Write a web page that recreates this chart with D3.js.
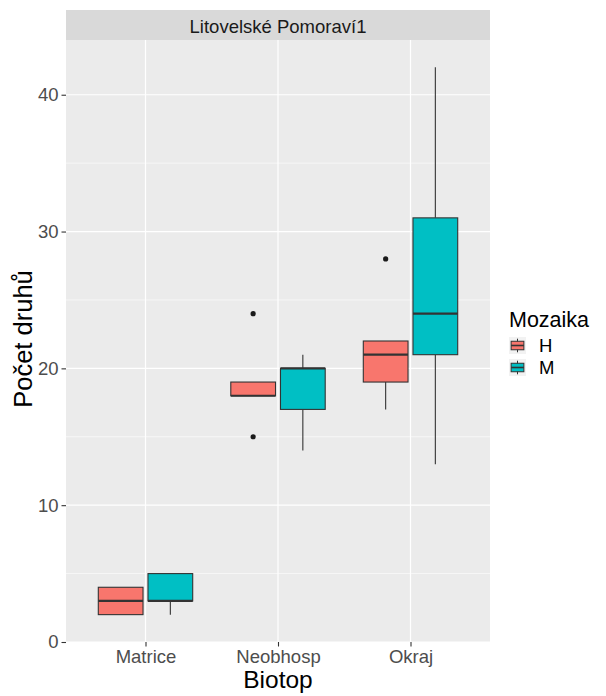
<!DOCTYPE html>
<html>
<head>
<meta charset="utf-8">
<script src="https://cdn.jsdelivr.net/npm/d3@7"></script>
<style>
  html, body { margin: 0; padding: 0; background: #ffffff; }
  svg { display: block; font-family: "Liberation Sans", Arial, sans-serif; }
</style>
</head>
<body>
<svg id="chart" width="606" height="696"></svg>
<script>
// Box plot summaries per habitat (Biotop) and mosaic type (Mozaika)
const categories = ["Matrice", "Neobhosp", "Okraj"];
const groups = ["H", "M"];
const groupColors = ["#F8766D", "#00BFC4"];

// H series
const hYmin   = [2, 18, 17];
const hLower  = [2, 18, 19];
const hMiddle = [3, 18, 21];
const hUpper  = [4, 19, 22];
const hYmax   = [4, 19, 22];
const hOutliers = [[], [24, 15], [28]];

// M series
const mYmin   = [2, 14, 13];
const mLower  = [3, 17, 21];
const mMiddle = [3, 20, 24];
const mUpper  = [5, 20, 31];
const mYmax   = [5, 21, 42];
const mOutliers = [[], [], []];

const yMajorTicks = [0, 10, 20, 30, 40];
const yMinorTicks = [5, 15, 25, 35];

const panelTitle = "Litovelské Pomoraví1";
const xTitle = "Biotop";
const yTitle = "Počet druhů";
const legendTitle = "Mozaika";

// Build rows for drawing
const series = [
  { key: "H", ymin: hYmin, lower: hLower, middle: hMiddle, upper: hUpper, ymax: hYmax, out: hOutliers },
  { key: "M", ymin: mYmin, lower: mLower, middle: mMiddle, upper: mUpper, ymax: mYmax, out: mOutliers }
];
const rows = [];
series.forEach(s => {
  categories.forEach((c, i) => {
    rows.push({
      cat: c, group: s.key,
      ymin: s.ymin[i], lower: s.lower[i], middle: s.middle[i],
      upper: s.upper[i], ymax: s.ymax[i], out: s.out[i]
    });
  });
});

// Layout
const panel = { left: 66, right: 490, top: 40, bottom: 642 };
const strip = { top: 10, bottom: 40 };

const svg = d3.select("#chart");

const x = d3.scalePoint()
  .domain(categories)
  .range([panel.left, panel.right])
  .padding(0.6);

const dodgeWidth = 0.75 * x.step();
const xg = d3.scaleBand()
  .domain(groups)
  .range([-dodgeWidth / 2, dodgeWidth / 2])
  .paddingInner(0.1)
  .paddingOuter(0.05);

const y = d3.scaleLinear()
  .domain([0, 44])
  .range([panel.bottom, panel.top]);

const color = d3.scaleOrdinal().domain(groups).range(groupColors);

// Panel background
svg.append("rect")
  .attr("x", panel.left).attr("y", panel.top)
  .attr("width", panel.right - panel.left)
  .attr("height", panel.bottom - panel.top)
  .attr("fill", "#EBEBEB");

// Grid lines
const grid = svg.append("g");
grid.selectAll("line.minor").data(yMinorTicks).enter().append("line")
  .attr("x1", panel.left).attr("x2", panel.right)
  .attr("y1", d => y(d)).attr("y2", d => y(d))
  .attr("stroke", "#ffffff").attr("stroke-width", 0.6);
grid.selectAll("line.major").data(yMajorTicks).enter().append("line")
  .attr("x1", panel.left).attr("x2", panel.right)
  .attr("y1", d => y(d)).attr("y2", d => y(d))
  .attr("stroke", "#ffffff").attr("stroke-width", 1.2);
grid.selectAll("line.vmajor").data(categories).enter().append("line")
  .attr("x1", d => x(d)).attr("x2", d => x(d))
  .attr("y1", panel.top).attr("y2", panel.bottom)
  .attr("stroke", "#ffffff").attr("stroke-width", 1.2);

// Strip
svg.append("rect")
  .attr("x", panel.left).attr("y", strip.top)
  .attr("width", panel.right - panel.left)
  .attr("height", strip.bottom - strip.top)
  .attr("fill", "#D9D9D9");
svg.append("text")
  .attr("x", (panel.left + panel.right) / 2)
  .attr("y", 32.5)
  .attr("text-anchor", "middle")
  .attr("font-size", "18.5px")
  .attr("fill", "#1A1A1A")
  .text(panelTitle);

// Boxes
const boxes = svg.append("g");
const bw = xg.bandwidth();
const outline = "#333333";

rows.forEach(r => {
  const cx = x(r.cat) + xg(r.group) + bw / 2;
  const g = boxes.append("g");
  // whiskers
  g.append("line")
    .attr("x1", cx).attr("x2", cx)
    .attr("y1", y(r.upper)).attr("y2", y(r.ymax))
    .attr("stroke", outline).attr("stroke-width", 1.1);
  g.append("line")
    .attr("x1", cx).attr("x2", cx)
    .attr("y1", y(r.lower)).attr("y2", y(r.ymin))
    .attr("stroke", outline).attr("stroke-width", 1.1);
  // box
  g.append("rect")
    .attr("x", cx - bw / 2).attr("width", bw)
    .attr("y", y(r.upper)).attr("height", y(r.lower) - y(r.upper))
    .attr("fill", color(r.group))
    .attr("stroke", outline).attr("stroke-width", 1.1);
  // median
  g.append("line")
    .attr("x1", cx - bw / 2).attr("x2", cx + bw / 2)
    .attr("y1", y(r.middle)).attr("y2", y(r.middle))
    .attr("stroke", outline).attr("stroke-width", 2.2);
  // outliers
  g.selectAll("circle").data(r.out).enter().append("circle")
    .attr("cx", cx).attr("cy", d => y(d))
    .attr("r", 2.6)
    .attr("fill", "#1A1A1A");
});

// Y axis
const yAxis = svg.append("g")
  .attr("transform", `translate(${panel.left},0)`)
  .call(d3.axisLeft(y).tickValues(yMajorTicks).tickSize(4.5).tickPadding(3).tickFormat(d3.format("d")));
yAxis.select(".domain").remove();
yAxis.selectAll(".tick line").attr("stroke", "#333333").attr("stroke-width", 1.1);
yAxis.selectAll(".tick text")
  .attr("fill", "#4D4D4D")
  .attr("font-size", "18.5px")
  .attr("font-family", "Liberation Sans, Arial, sans-serif");

// X axis
const xAxis = svg.append("g")
  .attr("transform", `translate(0,${panel.bottom})`)
  .call(d3.axisBottom(x).tickSize(4.5).tickPadding(3));
xAxis.select(".domain").remove();
xAxis.selectAll(".tick line").attr("stroke", "#333333").attr("stroke-width", 1.1);
xAxis.selectAll(".tick text")
  .attr("fill", "#4D4D4D")
  .attr("font-size", "18.5px")
  .attr("font-family", "Liberation Sans, Arial, sans-serif");

// Axis titles
svg.append("text")
  .attr("x", (panel.left + panel.right) / 2)
  .attr("y", 688)
  .attr("text-anchor", "middle")
  .attr("font-size", "24.5px")
  .attr("fill", "#000000")
  .text(xTitle);

svg.append("text")
  .attr("transform", `translate(32,${(panel.top + panel.bottom) / 2 - 2}) rotate(-90)`)
  .attr("text-anchor", "middle")
  .attr("font-size", "25.5px")
  .attr("fill", "#000000")
  .text(yTitle);

// Legend
const legend = svg.append("g");
legend.append("text")
  .attr("x", 509).attr("y", 327)
  .attr("font-size", "21.5px")
  .attr("fill", "#000000")
  .text(legendTitle);

const keySize = 17;
const keyX = 509;
const keyY0 = 337;
const keyStep = 22;
groups.forEach((gname, i) => {
  const ky = keyY0 + i * keyStep;
  const kg = legend.append("g");
  kg.append("rect")
    .attr("x", keyX).attr("y", ky)
    .attr("width", keySize).attr("height", keySize)
    .attr("fill", "#F2F2F2");
  const cx = keyX + keySize / 2;
  kg.append("line")
    .attr("x1", cx).attr("x2", cx)
    .attr("y1", ky + keySize * 0.1).attr("y2", ky + keySize * 0.9)
    .attr("stroke", outline).attr("stroke-width", 1);
  kg.append("rect")
    .attr("x", keyX + keySize * 0.125).attr("y", ky + keySize * 0.25)
    .attr("width", keySize * 0.75).attr("height", keySize * 0.5)
    .attr("fill", color(gname))
    .attr("stroke", outline).attr("stroke-width", 1);
  kg.append("line")
    .attr("x1", keyX + keySize * 0.125).attr("x2", keyX + keySize * 0.875)
    .attr("y1", ky + keySize / 2).attr("y2", ky + keySize / 2)
    .attr("stroke", outline).attr("stroke-width", 1.6);
  kg.append("text")
    .attr("x", 539).attr("y", ky + keySize / 2 + 6.5)
    .attr("font-size", "18.5px")
    .attr("fill", "#000000")
    .text(gname);
});
</script>
</body>
</html>
